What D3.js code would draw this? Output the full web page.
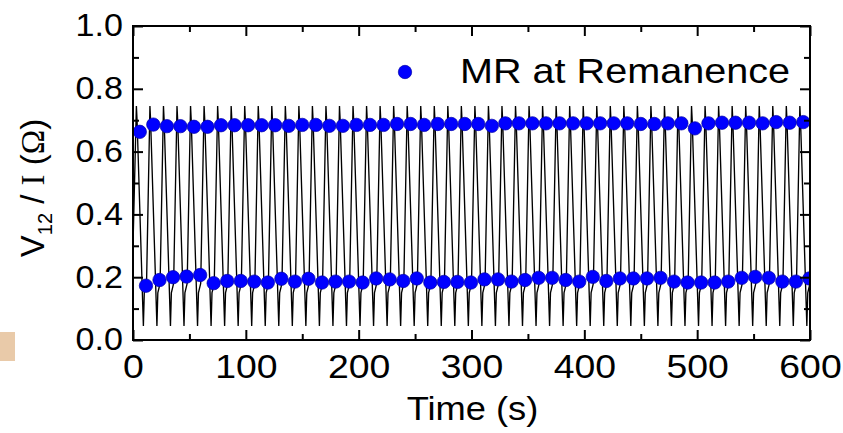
<!DOCTYPE html>
<html>
<head>
<meta charset="utf-8">
<script src="https://cdn.jsdelivr.net/npm/d3@7/dist/d3.min.js"></script>
<style>
  body { margin: 0; background: #fff; }
  svg { display: block; }
</style>
</head>
<body>
<svg id="chart" width="843" height="433"></svg>
<script>
// Read-out times (s) of the high (after positive pulse) and low remanent states
const topTimes = [6, 18, 30, 42, 54, 66, 78, 90, 102, 114, 126, 138, 150, 162, 174, 186, 198, 210, 222, 234,
  246, 258, 270, 282, 294, 306, 318, 330, 342, 354, 366, 378, 390, 402, 414, 426, 438, 450, 462, 474,
  486, 498, 510, 522, 534, 546, 558, 570, 582, 594];
const topValues = [0.663, 0.686, 0.681, 0.681, 0.679, 0.679, 0.684, 0.684, 0.684, 0.684, 0.684, 0.682,
  0.685, 0.685, 0.682, 0.682, 0.685, 0.685, 0.685, 0.688, 0.688, 0.685, 0.688, 0.688, 0.688, 0.688,
  0.682, 0.690, 0.690, 0.690, 0.690, 0.690, 0.690, 0.690, 0.690, 0.690, 0.690, 0.688, 0.688, 0.690,
  0.690, 0.674, 0.690, 0.692, 0.692, 0.692, 0.690, 0.694, 0.692, 0.694];
const bottomTimes = [11.5, 23.5, 35.5, 47.5, 59.5, 71.5, 83.5, 95.5, 107.5, 119.5, 131.5, 143.5, 155.5,
  167.5, 179.5, 191.5, 203.5, 215.5, 227.5, 239.5, 251.5, 263.5, 275.5, 287.5, 299.5, 311.5, 323.5,
  335.5, 347.5, 359.5, 371.5, 383.5, 395.5, 407.5, 419.5, 431.5, 443.5, 455.5, 467.5, 479.5, 491.5,
  503.5, 515.5, 527.5, 539.5, 551.5, 563.5, 575.5, 587.5, 599.5];
const bottomValues = [0.173, 0.191, 0.200, 0.202, 0.207, 0.181, 0.188, 0.188, 0.186, 0.183, 0.195, 0.186,
  0.195, 0.183, 0.186, 0.186, 0.183, 0.196, 0.193, 0.188, 0.196, 0.183, 0.185, 0.185, 0.183, 0.193,
  0.193, 0.186, 0.191, 0.198, 0.198, 0.191, 0.186, 0.201, 0.188, 0.196, 0.196, 0.196, 0.198, 0.186,
  0.183, 0.183, 0.183, 0.186, 0.198, 0.201, 0.198, 0.186, 0.186, 0.196];

// Shape of one switching cycle of the continuous V12/I trace:
// [offset from the high-state read-out time (s), V12/I (Ohm)]
const cycleShape = [[-3.0, 0.745], [-2.4, 0.700], [3.2, 0.045], [4.0, 0.150], [6.0, 0.180]];
const traceStart = [0, 0.30];

const xMajor = [0, 100, 200, 300, 400, 500, 600];
const xMinor = [50, 150, 250, 350, 450, 550];
const yMajor = [0.0, 0.2, 0.4, 0.6, 0.8, 1.0];
const yMinor = [0.1, 0.3, 0.5, 0.7, 0.9];
const legendLabel = "MR at Remanence";
const xTitle = "Time (s)";

// ---- layout ----
const svg = d3.select("#chart");
const pl = 133, pr = 810, pt = 26, pb = 340;
const stretch = 1.1;           // glyphs are drawn slightly wide
const sans = "'Liberation Sans', Arial, sans-serif";
const serif = "'Liberation Serif', 'Times New Roman', serif";

const x = d3.scaleLinear().domain([0, 600]).range([pl, pr]);
const y = d3.scaleLinear().domain([0, 1]).range([pb, pt]);

// small tan swatch at the lower left corner
svg.append("rect").attr("x", 0).attr("y", 332).attr("width", 15).attr("height", 29)
  .attr("fill", "#e9caa9");

svg.append("defs").append("clipPath").attr("id", "plot-clip")
  .append("rect").attr("x", pl).attr("y", pt)
  .attr("width", pr - pl).attr("height", pb - pt);

const plot = svg.append("g").attr("clip-path", "url(#plot-clip)");

// continuous trace
const trace = [traceStart];
topTimes.forEach(t0 => cycleShape.forEach(([dt, v]) => trace.push([t0 + dt, v])));
plot.append("path")
  .datum(trace)
  .attr("fill", "none")
  .attr("stroke", "#000")
  .attr("stroke-width", 1.35)
  .attr("stroke-linejoin", "miter")
  .attr("d", d3.line().x(d => x(d[0])).y(d => y(d[1])));

// remanence read-outs
const dots = topTimes.map((t, i) => [t, topValues[i]])
  .concat(bottomTimes.map((t, i) => [t, bottomValues[i]]));
plot.selectAll("circle.mr").data(dots).join("circle")
  .attr("class", "mr")
  .attr("cx", d => x(d[0])).attr("cy", d => y(d[1])).attr("r", 6.7)
  .attr("fill", "#0000ff").attr("stroke", "#0000a8").attr("stroke-width", 0.7);

// ---- axes (ticks point inward on all four sides) ----
function styleAxis(g) {
  g.select(".domain").remove();
  g.selectAll(".tick line").attr("stroke", "#000").attr("stroke-width", 2);
}
const major = 10, minor = 6;

svg.append("g").attr("transform", `translate(0,${pb})`)
  .call(d3.axisBottom(x).tickValues(xMajor).tickSize(-major).tickPadding(14).tickFormat(d3.format("d")))
  .call(styleAxis)
  .call(g => g.selectAll(".tick text").attr("font-family", sans).attr("font-size", 34)
    .attr("fill", "#000").attr("transform", `scale(${stretch},1)`));
svg.append("g").attr("transform", `translate(0,${pb})`)
  .call(d3.axisBottom(x).tickValues(xMinor).tickSize(-minor).tickFormat(""))
  .call(styleAxis);
svg.append("g").attr("transform", `translate(0,${pt})`)
  .call(d3.axisTop(x).tickValues(xMajor).tickSize(-major).tickFormat(""))
  .call(styleAxis);
svg.append("g").attr("transform", `translate(0,${pt})`)
  .call(d3.axisTop(x).tickValues(xMinor).tickSize(-minor).tickFormat(""))
  .call(styleAxis);

const yPad = 10;
svg.append("g").attr("transform", `translate(${pl},0)`)
  .call(d3.axisLeft(y).tickValues(yMajor).tickSize(-major).tickPadding(yPad).tickFormat(d3.format(".1f")))
  .call(styleAxis)
  .call(g => g.selectAll(".tick text").attr("font-family", sans).attr("font-size", 31)
    .attr("fill", "#000").attr("x", -yPad / stretch).attr("transform", `scale(${stretch},1)`));
svg.append("g").attr("transform", `translate(${pl},0)`)
  .call(d3.axisLeft(y).tickValues(yMinor).tickSize(-minor).tickFormat(""))
  .call(styleAxis);
svg.append("g").attr("transform", `translate(${pr},0)`)
  .call(d3.axisRight(y).tickValues(yMajor).tickSize(-major).tickFormat(""))
  .call(styleAxis);
svg.append("g").attr("transform", `translate(${pr},0)`)
  .call(d3.axisRight(y).tickValues(yMinor).tickSize(-minor).tickFormat(""))
  .call(styleAxis);

// frame
svg.append("rect").attr("x", pl).attr("y", pt)
  .attr("width", pr - pl).attr("height", pb - pt)
  .attr("fill", "none").attr("stroke", "#000").attr("stroke-width", 2);

// ---- titles ----
svg.append("g").attr("transform", `translate(${(pl + pr) / 2 + 1},420) scale(${stretch},1)`)
  .append("text").attr("text-anchor", "middle")
  .attr("font-family", sans).attr("font-size", 33).attr("fill", "#000")
  .text(xTitle);

const yt = svg.append("g").attr("transform", "translate(44,188) rotate(-90)")
  .append("text").attr("text-anchor", "middle")
  .attr("font-family", sans).attr("font-size", 33).attr("fill", "#000");
yt.append("tspan").text("V");
yt.append("tspan").attr("font-size", 20).attr("dy", 8).text("12");
yt.append("tspan").attr("dy", -8).text(" / ");
yt.append("tspan").attr("font-family", serif).text("I");
yt.append("tspan").text(" (");
yt.append("tspan").attr("font-family", serif).text("Ω");
yt.append("tspan").text(")");

// ---- legend ----
svg.append("circle").attr("cx", 405).attr("cy", 72).attr("r", 6.7)
  .attr("fill", "#0000ff").attr("stroke", "#0000a8").attr("stroke-width", 0.7);
svg.append("g").attr("transform", `translate(460,83) scale(${stretch},1)`)
  .append("text").attr("font-family", sans).attr("font-size", 36).attr("fill", "#000")
  .text(legendLabel);
</script>
</body>
</html>
